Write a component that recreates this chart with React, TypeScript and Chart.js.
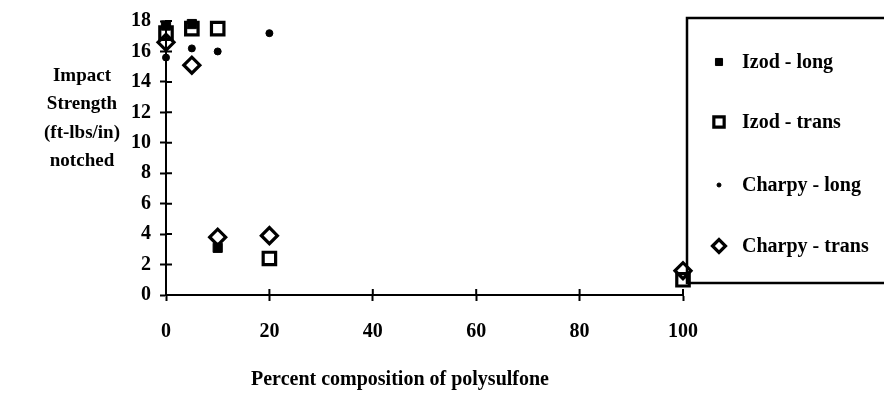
import React, { useEffect, useRef } from "react";
import { Chart, registerables } from "chart.js";

Chart.register(...registerables);

// Percent polysulfone vs notched impact strength (ft-lbs/in)
const izodLongX = [0, 5, 10];
const izodLongY = [17.7, 17.8, 3.1];

const izodTransX = [0, 5, 10, 20, 100];
const izodTransY = [17.2, 17.5, 17.5, 2.4, 1.0];

const charpyLongX = [0, 5, 10, 20];
const charpyLongY = [15.6, 16.2, 16.0, 17.2];

const charpyTransX = [0, 5, 10, 20, 100];
const charpyTransY = [16.6, 15.1, 3.8, 3.9, 1.6];

const seriesNames = ["Izod - long", "Izod - trans", "Charpy - long", "Charpy - trans"];
const xTicks = [0, 20, 40, 60, 80, 100];
const yTitleLines = ["Impact", "Strength", "(ft-lbs/in)", "notched"];
const xTitle = "Percent composition of polysulfone";

const FONT = "'Liberation Serif', 'Times New Roman', serif";

const toPoints = (xs: number[], ys: number[]) => xs.map((x, i) => ({ x, y: ys[i] }));

const markerStyles = [
  { pointStyle: "rect", radius: 6.5, fill: "#000", border: "#000", borderWidth: 1 },
  { pointStyle: "rect", radius: 8.8, fill: "rgba(0,0,0,0)", border: "#000", borderWidth: 3.2 },
  { pointStyle: "circle", radius: 3.5, fill: "#000", border: "#000", borderWidth: 1 },
  { pointStyle: "rectRot", radius: 8, fill: "rgba(0,0,0,0)", border: "#000", borderWidth: 3.2 },
];

function drawMarker(
  ctx: CanvasRenderingContext2D,
  style: string,
  r: number,
  x: number,
  y: number,
  filled: boolean
) {
  ctx.beginPath();
  if (style === "rect") {
    const s = Math.SQRT1_2 * r;
    ctx.rect(x - s, y - s, 2 * s, 2 * s);
  } else if (style === "rectRot") {
    ctx.moveTo(x - r, y);
    ctx.lineTo(x, y - r);
    ctx.lineTo(x + r, y);
    ctx.lineTo(x, y + r);
    ctx.closePath();
  } else {
    ctx.arc(x, y, r, 0, Math.PI * 2);
  }
  if (filled) ctx.fill();
  ctx.stroke();
}

const decorPlugin = {
  id: "decor",
  afterDraw(chart: any) {
    const ctx = chart.ctx as CanvasRenderingContext2D;
    const xs = chart.scales.x;
    const ys = chart.scales.y;
    const area = chart.chartArea;
    ctx.save();

    // inner halves of the crossing tick marks
    ctx.strokeStyle = "#000";
    ctx.lineWidth = 2;
    ctx.beginPath();
    for (const t of xTicks) {
      const px = xs.getPixelForValue(t);
      ctx.moveTo(px, area.bottom);
      ctx.lineTo(px, area.bottom - 6);
    }
    for (let v = 0; v <= 18; v += 2) {
      const py = ys.getPixelForValue(v);
      ctx.moveTo(area.left, py);
      ctx.lineTo(area.left + 6, py);
    }
    ctx.stroke();

    // axis titles
    ctx.fillStyle = "#000";
    ctx.font = `bold 19px ${FONT}`;
    ctx.textAlign = "center";
    ctx.textBaseline = "middle";
    yTitleLines.forEach((line, i) => ctx.fillText(line, 82, 76 + i * 28.5));
    ctx.font = `bold 20px ${FONT}`;
    ctx.fillText(xTitle, 400, 380);

    // legend box
    ctx.lineWidth = 2.5;
    ctx.strokeRect(687, 18, 210, 265);
    const rows = [62, 122, 185, 246];
    ctx.textAlign = "left";
    ctx.font = `bold 20px ${FONT}`;
    rows.forEach((ry, i) => {
      const m = markerStyles[i];
      const ds = chart.data.datasets[i];
      ctx.save();
      ctx.fillStyle = m.fill;
      ctx.strokeStyle = m.border;
      ctx.lineWidth = m.borderWidth;
      drawMarker(ctx, m.pointStyle, m.radius - 1.5, 719, ry, m.fill !== "rgba(0,0,0,0)");
      ctx.restore();
      ctx.fillStyle = "#000";
      ctx.fillText(ds.label, 742, ry + 1);
    });
    ctx.restore();
  },
};

export default function App() {
  const canvasRef = useRef<HTMLCanvasElement | null>(null);

  useEffect(() => {
    document.body.style.margin = "0";
    const canvas = canvasRef.current;
    if (!canvas) return;
    const seriesX = [izodLongX, izodTransX, charpyLongX, charpyTransX];
    const seriesY = [izodLongY, izodTransY, charpyLongY, charpyTransY];
    const chart = new Chart(canvas, {
      type: "scatter",
      data: {
        datasets: seriesNames.map((label, i) => ({
          label,
          data: toPoints(seriesX[i], seriesY[i]),
          pointStyle: markerStyles[i].pointStyle as any,
          pointRadius: markerStyles[i].radius,
          pointBackgroundColor: markerStyles[i].fill,
          pointBorderColor: markerStyles[i].border,
          pointBorderWidth: markerStyles[i].borderWidth,
          showLine: false,
          clip: false as any,
        })),
      },
      options: {
        animation: false,
        responsive: false,
        maintainAspectRatio: false,
        layout: { padding: { left: 0, top: 17, right: 201, bottom: 0 } },
        plugins: {
          legend: { display: false },
          tooltip: { enabled: false },
        },
        scales: {
          x: {
            type: "linear",
            min: 0,
            max: 100,
            afterFit: (s: any) => {
              s.height = 98;
            },
            afterBuildTicks: (s: any) => {
              s.ticks = xTicks.map((v) => ({ value: v }));
            },
            border: { display: true, color: "#000", width: 2 },
            grid: {
              drawOnChartArea: false,
              drawTicks: true,
              tickLength: 6,
              tickWidth: 2,
              tickColor: "#000",
            },
            ticks: {
              color: "#000",
              padding: 19,
              maxRotation: 0,
              font: { family: FONT, size: 20, weight: "bold" },
            },
          },
          y: {
            type: "linear",
            min: 0,
            max: 18,
            afterFit: (s: any) => {
              s.width = 166;
            },
            border: { display: true, color: "#000", width: 2 },
            grid: {
              drawOnChartArea: false,
              drawTicks: true,
              tickLength: 6,
              tickWidth: 2,
              tickColor: "#000",
            },
            ticks: {
              color: "#000",
              stepSize: 2,
              padding: 9,
              font: { family: FONT, size: 20, weight: "bold" },
            },
          },
        },
      },
      plugins: [decorPlugin],
    });
    return () => chart.destroy();
  }, []);

  return (
    <div style={{ position: "fixed", left: 0, top: 0, width: 884, height: 393, background: "#fff" }}>
      <canvas ref={canvasRef} width={884} height={393} style={{ width: 884, height: 393 }} />
    </div>
  );
}
